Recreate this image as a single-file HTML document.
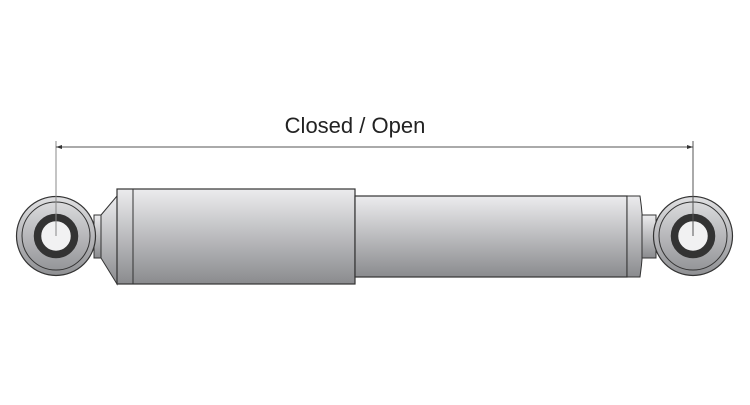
<!DOCTYPE html>
<html><head><style>html,body{margin:0;padding:0;background:#fff;}</style></head>
<body>
<svg width="750" height="400" viewBox="0 0 750 400" xmlns="http://www.w3.org/2000/svg">
<defs>
<linearGradient id="g" x1="0" y1="0" x2="0" y2="1">
<stop offset="0" stop-color="#ececee"/>
<stop offset="1" stop-color="#8a8b8e"/>
</linearGradient>
<linearGradient id="ge" x1="0" y1="0" x2="0" y2="1">
<stop offset="0" stop-color="#e0e0e2"/>
<stop offset="1" stop-color="#8f9093"/>
</linearGradient>
</defs>
<text x="355" y="133" font-family="Liberation Sans, sans-serif" font-size="22" fill="#222" text-anchor="middle">Closed / Open</text>
<rect x="94" y="215" width="8" height="43" fill="url(#g)" stroke="#333" stroke-width="1"/>
<path d="M101 215 L117 196 L117 284 L101 258 Z" fill="url(#g)" stroke="#333" stroke-width="1"/>
<rect x="117" y="189" width="238" height="95" fill="url(#g)" stroke="#333" stroke-width="1.2"/>
<line x1="133" y1="189" x2="133" y2="284" stroke="#333"/>
<rect x="355" y="196" width="272" height="81" fill="url(#g)" stroke="#333" stroke-width="1.2"/>
<path d="M627 196 L640 196 Q646 236 640 277 L627 277 Z" fill="url(#g)" stroke="#333" stroke-width="1"/>
<line x1="627" y1="196" x2="627" y2="277" stroke="#333"/>
<rect x="642" y="215" width="14" height="43" fill="url(#g)" stroke="#333" stroke-width="1"/>
<g stroke="#333">
<circle cx="56" cy="236" r="39.5" fill="url(#ge)" stroke-width="1.2"/>
<circle cx="56" cy="236" r="34" fill="none" stroke-width="1"/>
<circle cx="56" cy="236" r="18.5" fill="#f1f1f2" stroke="#333" stroke-width="7.5"/>
<circle cx="693" cy="236" r="39.5" fill="url(#ge)" stroke-width="1.2"/>
<circle cx="693" cy="236" r="34" fill="none" stroke-width="1"/>
<circle cx="693" cy="236" r="18.5" fill="#f1f1f2" stroke="#333" stroke-width="7.5"/>
</g>
<line x1="56" y1="141" x2="56" y2="236" stroke="#888" stroke-width="1"/>
<line x1="693" y1="141" x2="693" y2="236" stroke="#555" stroke-width="1"/>
<line x1="56" y1="147" x2="693" y2="147" stroke="#555" stroke-width="1"/>
<path d="M56 147 L62 145 L62 149 Z" fill="#333"/>
<path d="M693 147 L687 145 L687 149 Z" fill="#333"/>
</svg>
</body></html>
